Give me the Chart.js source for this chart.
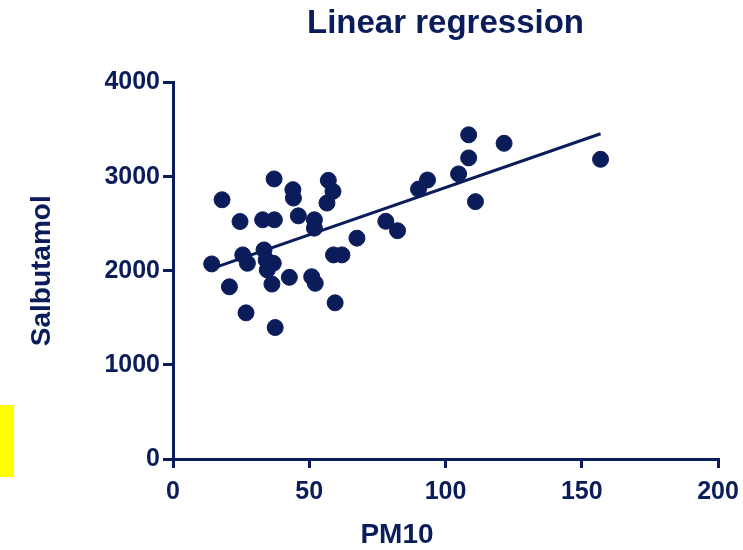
<!DOCTYPE html>
<html>
<head>
<meta charset="utf-8">
<script src="https://cdn.jsdelivr.net/npm/chart.js@4"></script>
<style>
  html, body { margin: 0; padding: 0; background: #fff; }
  #wrap { position: relative; width: 743px; height: 550px; }
  #marker { position: absolute; left: 0; top: 405px; width: 14px; height: 72px; background: #ffff00; }
</style>
</head>
<body>
<div id="wrap">
  <canvas id="regChart" width="743" height="550"></canvas>
  <div id="marker"></div>
</div>
<script>
// PM10 vs Salbutamol
const pm10 = [37.1, 18.0, 44.0, 44.2, 57.0, 58.7, 56.5, 24.6, 32.9, 37.2,
  46.0, 51.9, 51.9, 67.5, 14.2, 25.6, 27.3, 33.4, 34.2, 36.8,
  34.6, 36.3, 58.9, 62.0, 20.7, 42.7, 50.9, 52.2, 26.8, 37.5,
  59.5, 108.5, 121.5, 108.5, 156.9, 104.8, 93.4, 90.1, 111.0, 78.1, 82.4];
const salbutamol = [2976, 2755, 2862, 2773, 2961, 2844, 2720, 2524, 2542, 2542,
  2584, 2542, 2453, 2347, 2073, 2169, 2080, 2222, 2115, 2080,
  2009, 1859, 2169, 2169, 1830, 1931, 1937, 1867, 1553, 1397,
  1660, 3445, 3355, 3200, 3185, 3030, 2965, 2868, 2735, 2526, 2426];

// fitted line ends
const fitX = [14.2, 156.9];
const fitY = [2023, 3456];

const xTicks = [0, 50, 100, 150, 200];
const yTicks = [0, 1000, 2000, 3000, 4000];

const navy = '#0b1c5a';
const fontFam = '"Liberation Sans", Arial, sans-serif';

// x axis title sits left of centre in the original, so draw it by hand
const xTitlePlugin = {
  id: 'xTitle',
  afterDraw(chart) {
    const c = chart.ctx;
    c.save();
    c.fillStyle = navy;
    c.font = 'bold 28px ' + fontFam;
    c.textAlign = 'center';
    c.textBaseline = 'middle';
    c.fillText('PM10', 397, 535);
    c.restore();
  }
};

const ctx = document.getElementById('regChart').getContext('2d');
const regChart = new Chart(ctx, {
  type: 'scatter',
  data: {
    datasets: [{
      label: 'Salbutamol',
      data: pm10.map((x, i) => ({ x: x, y: salbutamol[i] })),
      backgroundColor: navy,
      borderColor: navy,
      borderWidth: 1,
      pointRadius: 8,
      pointHoverRadius: 8
    }, {
      type: 'line',
      label: 'Fit',
      data: fitX.map((x, i) => ({ x: x, y: fitY[i] })),
      borderColor: navy,
      borderWidth: 3,
      pointRadius: 0,
      fill: false
    }]
  },
  options: {
    responsive: false,
    animation: false,
    layout: { padding: { left: 0, right: 25, top: 0, bottom: 0 } },
    plugins: {
      legend: { display: false },
      tooltip: { enabled: false },
      title: {
        display: true,
        fullSize: false,
        text: 'Linear regression',
        color: navy,
        font: { family: fontFam, size: 33, weight: 'bold' },
        padding: { top: 4, bottom: 39 }
      }
    },
    scales: {
      x: {
        type: 'linear',
        min: 0, max: 200,
        afterBuildTicks: (s) => { s.ticks = xTicks.map(v => ({ value: v })); },
        afterFit: (s) => { s.height = 91; s.paddingLeft = 0; s.paddingRight = 0; },
        grid: { drawOnChartArea: false, drawTicks: true, tickLength: 9, color: navy, lineWidth: 3 },
        border: { display: true, color: navy, width: 3 },
        ticks: { color: navy, padding: 9, font: { family: fontFam, size: 25, weight: 'bold' },
          callback: (v) => String(v) }
      },
      y: {
        type: 'linear',
        min: 0, max: 4000,
        afterBuildTicks: (s) => { s.ticks = yTicks.map(v => ({ value: v })); },
        afterFit: (s) => { s.width = 173; s.paddingTop = 0; s.paddingBottom = 0; },
        grid: { drawOnChartArea: false, drawTicks: true, tickLength: 10, color: navy, lineWidth: 3 },
        border: { display: true, color: navy, width: 3 },
        ticks: { color: navy, padding: 3, font: { family: fontFam, size: 25, weight: 'bold' },
          callback: (v) => String(v) },
        title: {
          display: true, text: 'Salbutamol', color: navy,
          font: { family: fontFam, size: 28, weight: 'bold' },
          padding: { top: 25, bottom: 0 }
        }
      }
    }
  },
  plugins: [xTitlePlugin]
});
</script>
</body>
</html>
